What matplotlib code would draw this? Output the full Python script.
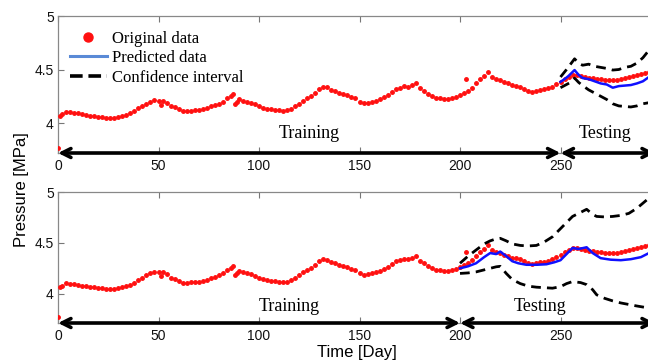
import matplotlib
matplotlib.use("Agg")
import matplotlib.pyplot as plt
from matplotlib.lines import Line2D

# ---------------- data ----------------
obs_days = [0, 1, 2, 4, 6, 8, 10, 12, 14, 16, 18, 20, 22, 24, 26, 28, 30, 32, 34, 36,
            38, 40, 42, 44, 46, 48, 50, 51, 52, 54, 56, 58, 60, 62, 64, 66, 68, 70, 72, 74,
            76, 78, 80, 82, 84, 86, 87, 88, 89, 90, 92, 94, 96, 98, 100, 102, 104, 106, 108, 110,
            112, 114, 116, 118, 120, 122, 124, 126, 128, 130, 132, 134, 136, 138, 140, 142, 144, 146, 148, 150,
            152, 154, 156, 158, 160, 162, 164, 166, 168, 170, 172, 174, 176, 178, 180, 182, 184, 186, 188, 190,
            192, 194, 196, 198, 200, 202, 203, 204, 206, 208, 210, 212, 214, 216, 218, 220, 222, 224, 226, 228,
            230, 232, 234, 236, 238, 240, 242, 244, 246, 248, 250, 252, 254, 256, 258, 260, 262, 264, 266, 268,
            270, 272, 274, 276, 278, 280, 282, 284, 286, 288, 290, 292, 294]
obs_pressure = [3.77, 4.065, 4.08, 4.105, 4.10, 4.095, 4.09, 4.08, 4.075, 4.07, 4.065, 4.06, 4.055, 4.05, 4.045, 4.05, 4.055, 4.065, 4.075, 4.09,
                4.11, 4.14, 4.16, 4.18, 4.20, 4.215, 4.21, 4.17, 4.21, 4.19, 4.16, 4.15, 4.13, 4.11, 4.11, 4.115, 4.12, 4.12, 4.13, 4.14,
                4.155, 4.165, 4.18, 4.20, 4.23, 4.255, 4.275, 4.18, 4.20, 4.225, 4.21, 4.20, 4.19, 4.175, 4.16, 4.145, 4.135, 4.13, 4.125, 4.12,
                4.115, 4.12, 4.135, 4.16, 4.18, 4.21, 4.23, 4.255, 4.28, 4.32, 4.34, 4.335, 4.31, 4.30, 4.285, 4.27, 4.26, 4.245, 4.23, 4.20,
                4.185, 4.19, 4.20, 4.21, 4.225, 4.24, 4.26, 4.29, 4.32, 4.33, 4.345, 4.34, 4.355, 4.37, 4.325, 4.30, 4.27, 4.25, 4.235, 4.23,
                4.225, 4.225, 4.23, 4.24, 4.26, 4.28, 4.41, 4.30, 4.33, 4.37, 4.41, 4.44, 4.48, 4.43, 4.41, 4.40, 4.385, 4.37, 4.355, 4.35,
                4.34, 4.32, 4.30, 4.29, 4.30, 4.31, 4.315, 4.325, 4.34, 4.36, 4.385, 4.41, 4.43, 4.45, 4.445, 4.44, 4.43, 4.425, 4.42, 4.415,
                4.41, 4.405, 4.40, 4.40, 4.405, 4.41, 4.42, 4.43, 4.44, 4.45, 4.46, 4.47, 4.48]

# top panel: test from day 250
top_days = [250, 252, 254, 257, 259, 261, 264, 267, 270, 273, 276, 279, 282, 285, 288, 291, 294]
top_pred = [4.385, 4.41, 4.44, 4.495, 4.45, 4.42, 4.41, 4.39, 4.37, 4.36, 4.33, 4.345, 4.35, 4.355, 4.37, 4.39, 4.43]
top_ci_days = [250, 253, 255, 257, 259, 261, 264, 267, 270, 273, 276, 279, 282, 285, 288, 291, 294]
top_upper = [4.43, 4.50, 4.55, 4.60, 4.56, 4.54, 4.55, 4.53, 4.52, 4.51, 4.495, 4.50, 4.52, 4.53, 4.56, 4.61, 4.68]
top_lower = [4.33, 4.36, 4.38, 4.42, 4.38, 4.35, 4.31, 4.28, 4.25, 4.22, 4.18, 4.16, 4.155, 4.15, 4.16, 4.18, 4.19]

# bottom panel: test from day 200
bot_days = [200, 204, 208, 212, 215, 218, 220, 223, 226, 229, 233, 238, 243, 247, 250, 253, 256, 259, 263, 266, 270, 275, 280, 285, 290, 294]
bot_pred = [4.25, 4.27, 4.30, 4.36, 4.40, 4.39, 4.415, 4.37, 4.32, 4.30, 4.285, 4.285, 4.29, 4.31, 4.33, 4.39, 4.45, 4.44, 4.457, 4.40, 4.35, 4.335, 4.33, 4.34, 4.36, 4.40]
bot_ci_days = [200, 204, 208, 212, 215, 218, 220, 223, 226, 230, 234, 238, 242, 246, 250, 253, 256, 260, 263, 266, 268, 272, 276, 280, 284, 288, 291, 294]
bot_upper = [4.30, 4.37, 4.43, 4.49, 4.52, 4.54, 4.545, 4.52, 4.49, 4.475, 4.47, 4.475, 4.51, 4.56, 4.64, 4.70, 4.76, 4.80, 4.83, 4.78, 4.76, 4.755, 4.76, 4.77, 4.79, 4.84, 4.89, 4.94]
bot_lower = [4.20, 4.205, 4.215, 4.235, 4.25, 4.265, 4.27, 4.20, 4.14, 4.10, 4.075, 4.065, 4.06, 4.055, 4.07, 4.10, 4.12, 4.11, 4.09, 4.04, 3.99, 3.955, 3.93, 3.91, 3.895, 3.88, 3.87, 3.86]

x_ticks = [0, 50, 100, 150, 200, 250]
y_ticks = [4, 4.5, 5]
legend_labels = ["Original data", "Predicted data", "Confidence interval"]

# ---------------- figure ----------------
W, H = 648, 363
fig = plt.figure(figsize=(W / 100, H / 100), dpi=100)

def fx(px):
    return px / W

def fy(py):
    return 1 - py / H

left = fx(58)
width = fx(661) - left
ax1 = fig.add_axes([left, fy(153), width, fy(16) - fy(153)])
ax2 = fig.add_axes([left, fy(323), width, fy(192) - fy(323)])

serif = ["Liberation Serif", "DejaVu Serif"]
sans = ["Liberation Sans", "DejaVu Sans"]

panels = [
    (ax1, top_days, top_pred, top_ci_days, top_upper, top_lower, 250, (3.72, 5.0), 3.905, 125, 272),
    (ax2, bot_days, bot_pred, bot_ci_days, bot_upper, bot_lower, 200, (3.713, 5.0), 3.88, 115, 240),
]

for ax, dd, pp, cd, up, lo, split, ylim, ty, trx, tex in panels:
    ax.plot(obs_days, obs_pressure, linestyle="none", marker="o", ms=2.5,
            color="#ff1010", mec="#ff1010", zorder=3)
    ax.plot(dd, pp, color="#1010ff", lw=1.8, zorder=4)
    ax.plot(cd, up, color="black", lw=2.0, dashes=(3.5, 2.2), zorder=4)
    ax.plot(cd, lo, color="black", lw=2.0, dashes=(3.5, 2.2), zorder=4)
    ax.set_xlim(0, 300)
    ax.set_ylim(*ylim)
    ax.set_xticks(x_ticks)
    ax.set_xticklabels([str(t) for t in x_ticks])
    ax.set_yticks(y_ticks)
    ax.set_yticklabels(["4", "4.5", "5"])
    ax.tick_params(axis="both", direction="in", length=4, width=0.8, color="#777777",
                   labelsize=10, labelcolor="#111111", top=True, right=False, pad=3)
    ax.tick_params(axis="x", pad=4)
    for lab in ax.get_xticklabels() + ax.get_yticklabels():
        lab.set_family(sans)
    for s in ["top", "left", "bottom"]:
        ax.spines[s].set_color("#888888")
        ax.spines[s].set_linewidth(0.9)
    ax.spines["right"].set_visible(False)
    yb = ylim[0]
    ax.annotate("", xy=(0, yb), xytext=(split, yb),
                arrowprops=dict(arrowstyle="<->", lw=2.6, color="black",
                                mutation_scale=16, shrinkA=0, shrinkB=0),
                annotation_clip=False, zorder=5)
    ax.annotate("", xy=(split, yb), xytext=(297, yb),
                arrowprops=dict(arrowstyle="<->", lw=2.6, color="black",
                                mutation_scale=16, shrinkA=0, shrinkB=0),
                annotation_clip=False, zorder=5)
    ax.text(trx, ty, "Training", family=serif, fontsize=13, ha="center", va="center")
    ax.text(tex, ty, "Testing", family=serif, fontsize=13, ha="center", va="center")

handles = [
    Line2D([], [], linestyle="none", marker="o", ms=6.5, color="#ff1010"),
    Line2D([], [], color="#5a8ad6", lw=2.2),
    Line2D([], [], color="black", lw=2.6, dashes=(3.5, 1.6)),
]
fig.legend(handles, legend_labels, loc="upper left",
           bbox_to_anchor=(fx(70), fy(31)), frameon=False,
           prop={"family": serif, "size": 12}, handlelength=2.2,
           handletextpad=0.3, labelspacing=0.2, borderpad=0, borderaxespad=0,
           numpoints=1)

fig.text(fx(22), fy(190), "Pressure [MPa]", rotation=90, family=sans, fontsize=12,
         ha="center", va="center")
fig.text(fx(357), fy(353), "Time [Day]", family=sans, fontsize=12,
         ha="center", va="center")

fig.savefig("out.png", dpi=100)
